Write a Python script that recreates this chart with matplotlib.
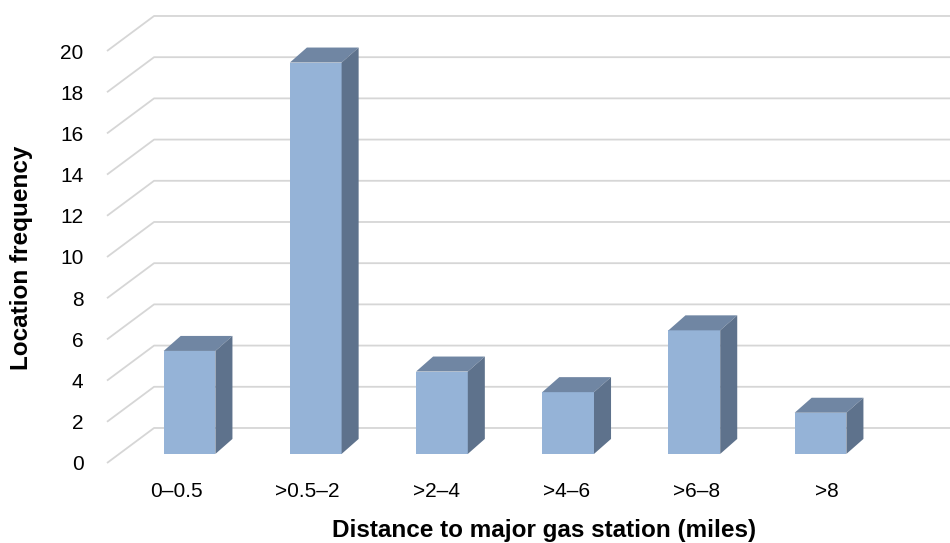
import numpy as np
import matplotlib.pyplot as plt
from matplotlib.patches import Polygon

plt.rcParams["font.family"] = ["Liberation Sans", "DejaVu Sans"]

categories = ["0\u20130.5", ">0.5\u20132", ">2\u20134", ">4\u20136", ">6\u20138", ">8"]
counts = [5, 19, 4, 3, 6, 2]
y_ticks = list(range(0, 22, 2))

# pseudo-3D look (in data units)
WALL_DX, WALL_DY = 0.373, 1.70
BAR_W, BAR_DX, BAR_DY = 0.41, 0.135, 0.728
BAR_BASE = 0.44
X_LEFT, X_RIGHT = -0.654, 6.026

FRONT = "#95B3D7"
TOP = "#7086A3"
SIDE = "#5E728C"
GRID = "#d6d6d6"

fig = plt.figure(figsize=(9.5, 5.43), dpi=100)
ax = fig.add_axes([107 / 950, 80 / 543, 843 / 950, 463 / 543])
ax.set_xlim(X_LEFT, X_RIGHT)
ax.set_ylim(0, 463 / 20.6)

# back wall gridlines with the slanted side wall part
for v in y_ticks:
    ax.plot([X_LEFT, X_LEFT + WALL_DX, X_RIGHT], [v, v + WALL_DY, v + WALL_DY],
            color=GRID, lw=1.3, zorder=1, clip_on=False, solid_capstyle="butt")

x = np.arange(len(categories))
for xi, v in zip(x, counts):
    l, r = xi - BAR_W / 2, xi + BAR_W / 2
    b, t = BAR_BASE, BAR_BASE + v
    ax.add_patch(Polygon([(l, b), (r, b), (r, t), (l, t)], closed=True,
                         facecolor=FRONT, edgecolor="none", zorder=3))
    ax.add_patch(Polygon([(l, t), (r, t), (r + BAR_DX, t + BAR_DY), (l + BAR_DX, t + BAR_DY)],
                         closed=True, facecolor=TOP, edgecolor="none", zorder=3))
    ax.add_patch(Polygon([(r, b), (r + BAR_DX, b + BAR_DY), (r + BAR_DX, t + BAR_DY), (r, t)],
                         closed=True, facecolor=SIDE, edgecolor="none", zorder=3))

# category labels sit on the floor's front edge, spread slightly wider than the bars
ax.set_xticks(x * 1.03 - 0.1)
ax.set_xticklabels(categories, fontsize=15)
ax.set_yticks(y_ticks)
ax.set_yticklabels([str(v) for v in y_ticks], fontsize=15)
ax.tick_params(axis="x", length=0, pad=14)
ax.tick_params(axis="y", length=0, pad=17)
for s in ax.spines.values():
    s.set_visible(False)

fig.text(22 / 950, 1 - 258 / 543, "Location frequency", rotation=90, fontsize=17.5,
         fontweight="bold", ha="center", va="center")
fig.text(544 / 950, 1 - 530 / 543, "Distance to major gas station (miles)", fontsize=17.5,
         fontweight="bold", ha="center", va="center")

fig.savefig("out.png", dpi=100)
